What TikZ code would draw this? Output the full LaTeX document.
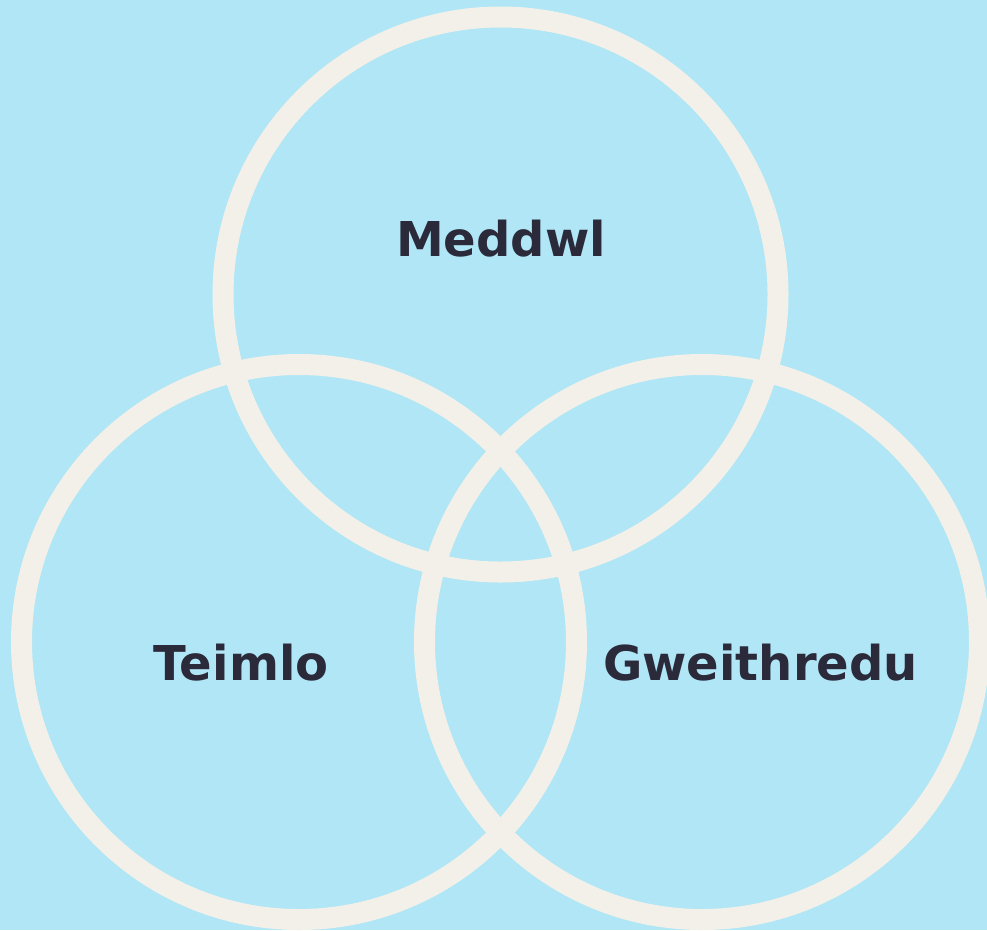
\documentclass[tikz,border=0pt]{standalone}
\usepackage{fontspec}
\newfontfamily\labelfont{DejaVu Sans}
\definecolor{bgblue}{HTML}{B0E6F5}
\definecolor{ringcol}{HTML}{F2F0E8}
\definecolor{txtcol}{HTML}{2B2A3A}
\begin{document}
\begin{tikzpicture}[x=1pt,y=-1pt,
  ring/.style={draw=ringcol, line width=21pt},
  lbl/.style={anchor=base, text=txtcol, font=\labelfont\bfseries\fontsize{48}{56}\selectfont, inner sep=0pt}]
\useasboundingbox (0,0) rectangle (987,930);
\fill[bgblue] (0,0) rectangle (987,930);
\clip (0,0) rectangle (987,930);
\coordinate (ctop) at (500.5,294.5);
\coordinate (cleft) at (299,642);
\coordinate (cright) at (702,642);
\draw[ring] (ctop) circle [radius=277.5pt];
\draw[ring] (cleft) circle [radius=277.5pt];
\draw[ring] (cright) circle [radius=277.5pt];
\node[lbl] (meddwl) at (501,256) {Meddwl};
\node[lbl] (teimlo) at (241,680) {Teimlo};
\node[lbl] (gweith) at (760.5,680) {Gweithredu};
\end{tikzpicture}
\end{document}
